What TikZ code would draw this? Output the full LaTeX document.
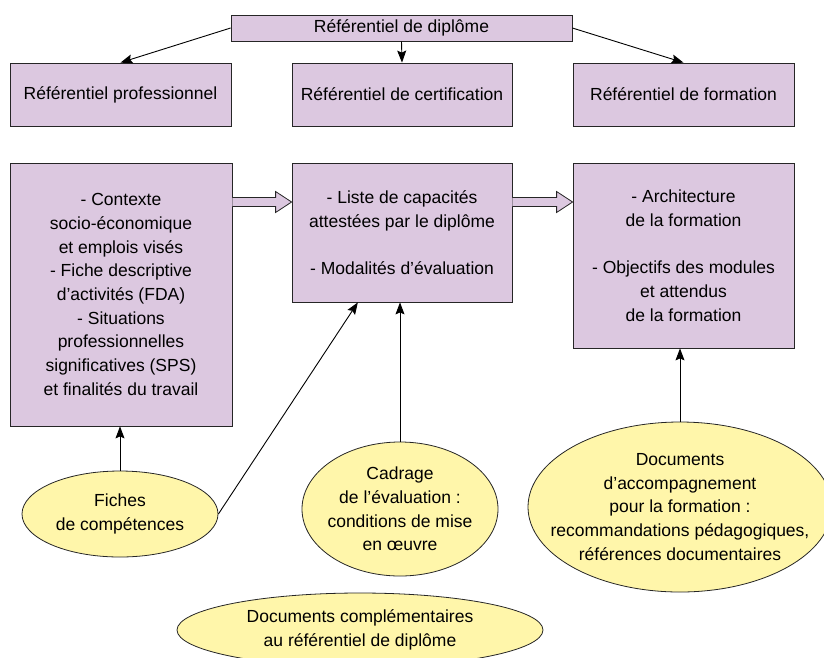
\documentclass[tikz,border=0pt]{standalone}
\usepackage{fontspec}
\setmainfont{Liberation Sans}
\usepackage{xcolor}
\usetikzlibrary{arrows.meta, shapes.geometric, positioning, calc}
\definecolor{boxlilac}{RGB}{220,200,224}
\definecolor{ovalyellow}{RGB}{255,246,170}
\tikzset{
	refbox/.style={rectangle, draw=black!85, line width=0.8pt, fill=boxlilac, inner sep=0pt, align=center, font=\fontsize{17.5}{23.7}\selectfont},
	docoval/.style={ellipse, draw=black!85, line width=0.8pt, fill=ovalyellow, inner sep=0pt, align=center, font=\fontsize{17.5}{23.7}\selectfont},
	link/.style={draw, line width=0.9pt, -{Stealth[length=12pt,width=9pt,inset=2pt]}},
	hollow/.style={draw=black!85, line width=0.8pt, fill=boxlilac}
}

\begin{document}
\begin{tikzpicture}[x=1pt, y=-1pt]
	\useasboundingbox (0,0) rectangle (824,657);
	
	% Top: diploma and its three parts
	\node[refbox, minimum width=341, minimum height=26] (dip) at (401.5,28) {Référentiel de diplôme};
	\node[refbox, minimum width=221, minimum height=63] (pro) at (120.5,94.5) {Référentiel professionnel};
	\node[refbox, minimum width=220, minimum height=63] (cert) at (402,94.5) {Référentiel de certification};
	\node[refbox, minimum width=221, minimum height=63] (form) at (683.5,94.5) {Référentiel de formation};
	
	\draw[link] (dip.west) -- (pro.north);
	\draw[link] (dip.south) -- (cert.north);
	\draw[link] (dip.east) -- (form.north);
	
	% Contents of each part
	\node[refbox, minimum width=222, minimum height=263] (ctx) at (121,294.5) {- Contexte\\socio-économique\\et emplois visés\\- Fiche descriptive\\d’activités (FDA)\\- Situations\\professionnelles\\significatives (SPS)\\et finalités du travail};
	\node[refbox, minimum width=220, minimum height=139] (caps) at (402,232.5) {- Liste de capacités\\attestées par le diplôme\\[23.7pt]- Modalités d’évaluation};
	\node[refbox, minimum width=221, minimum height=185] (archi) at (683.5,255.5) {- Architecture\\de la formation\\[23.7pt]- Objectifs des modules\\et attendus\\de la formation};
	
	% Hollow arrows between the contents
	\coordinate (lvl) at (0,202);
	\foreach \src/\dst in {ctx/caps, caps/archi} {
		\draw[hollow] ($(\src.east |- lvl)+(0,-4.5)$) -- ($(\dst.west |- lvl)+(-16,-4.5)$) -- ($(\dst.west |- lvl)+(-16,-10.5)$) -- (\dst.west |- lvl) -- ($(\dst.west |- lvl)+(-16,10.5)$) -- ($(\dst.west |- lvl)+(-16,4.5)$) -- ($(\src.east |- lvl)+(0,4.5)$);
	}
	
	% Accompanying documents
	\node[docoval, minimum width=196, minimum height=86] (fiches) at (120,514) {Fiches\\de compétences};
	\node[docoval, minimum width=196, minimum height=134, inner xsep=-4pt] (cadrage) at (400,509) {Cadrage\\de l’évaluation :\\conditions de mise\\en œuvre};
	\node[docoval, minimum width=304, minimum height=170, inner xsep=-23pt, inner ysep=-2pt] (accomp) at (680,507) {Documents\\d’accompagnement\\pour la formation :\\recommandations pédagogiques,\\références documentaires};
	\node[docoval, minimum width=366, minimum height=74] (compl) at (360,630) {Documents complémentaires\\au référentiel de diplôme};
	
	\draw[link] (fiches.north) -- (fiches.north |- ctx.south);
	\draw[link] (fiches.east) -- ($(caps.south west)!0.3!(caps.south east)$);
	\draw[link] (cadrage.north) -- (cadrage.north |- caps.south);
	\draw[link] (accomp.north) -- (accomp.north |- archi.south);
	
\end{tikzpicture}
\end{document}
